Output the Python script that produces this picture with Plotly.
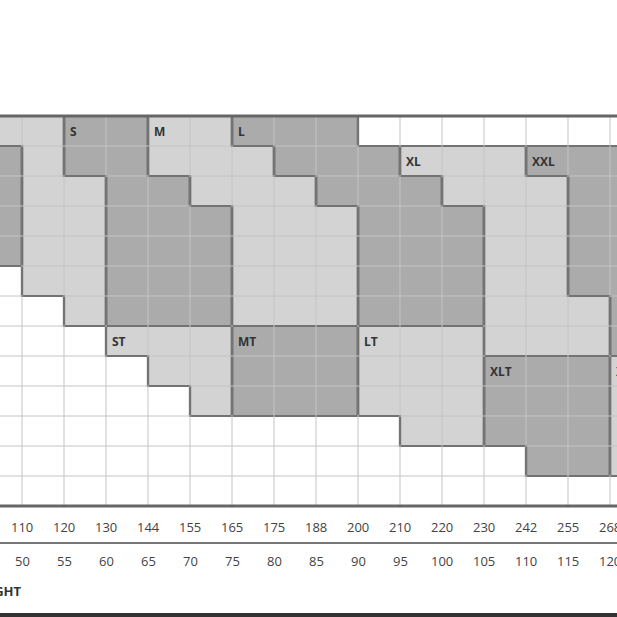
import plotly.graph_objects as go

# Data
chest_ticks = [110, 120, 130, 144, 155, 165, 175, 188, 200, 210, 220, 230, 242, 255, 268]
weight_ticks = [50, 55, 60, 65, 70, 75, 80, 85, 90, 95, 100, 105, 110, 115, 120]
row_label = "WEIGHT"
# size regions: name, shade, label cell (col,row), column spans (col, top_row, bottom_row_exclusive)
sizes = ["XXS", "XS", "S", "M", "L", "XL", "XXL", "ST", "MT", "LT", "XLT", "XXLT"]
shades = ["dark", "light", "dark", "light", "dark", "light", "dark", "light", "dark", "light", "dark", "light"]
label_cells = [None, (-1, 0), (1, 0), (3, 0), (5, 0), (9, 1), (12, 1), (2, 7), (5, 7), (8, 7), (11, 8), (14, 8)]
spans = [
    [(-1, 1, 5)],
    [(-1, 0, 1), (0, 0, 6), (1, 2, 7)],
    [(1, 0, 2), (2, 0, 7), (3, 2, 7), (4, 3, 7)],
    [(3, 0, 2), (4, 0, 3), (5, 1, 7), (6, 2, 7), (7, 3, 7)],
    [(5, 0, 1), (6, 0, 2), (7, 0, 3), (8, 1, 7), (9, 2, 7), (10, 3, 7)],
    [(9, 1, 2), (10, 1, 3), (11, 1, 8), (12, 2, 8), (13, 6, 8)],
    [(12, 1, 2), (13, 1, 6), (14, 1, 8)],
    [(2, 7, 8), (3, 7, 9), (4, 7, 10)],
    [(5, 7, 10), (6, 7, 10), (7, 7, 10)],
    [(8, 7, 10), (9, 7, 11), (10, 7, 11)],
    [(11, 8, 11), (12, 8, 12), (13, 8, 12)],
    [(14, 8, 12)],
]
NROWS = 13
COLS = list(range(-1, 16))

fill = {"light": "#d3d3d3", "dark": "#ababab"}

fig = go.Figure()
shapes = []
for name, shade, sp in zip(sizes, shades, spans):
    for c, t, b in sp:
        shapes.append(dict(type="rect", x0=c, x1=c + 1, y0=t, y1=b, fillcolor=fill[shade],
                           line=dict(width=0), layer="below"))
for c in COLS:
    shapes.append(dict(type="line", x0=c, x1=c, y0=0, y1=NROWS, line=dict(color="#c4c4c4", width=1)))
for r in range(NROWS + 1):
    shapes.append(dict(type="line", x0=-1, x1=16, y0=r, y1=r, line=dict(color="#c4c4c4", width=1)))
for sp in spans:
    xs, ys = [], []
    for c, t, b in sp:
        xs += [c, c + 1]; ys += [t, t]
    for c, t, b in reversed(sp):
        xs += [c + 1, c]; ys += [b, b]
    xs.append(xs[0]); ys.append(ys[0])
    fig.add_trace(go.Scatter(x=xs, y=ys, mode="lines", line=dict(color="#222", width=2.2),
                             hoverinfo="skip", showlegend=False))
shapes.append(dict(type="line", x0=-1, x1=16, y0=0, y1=0, line=dict(color="#666", width=3)))
shapes.append(dict(type="line", x0=-1, x1=16, y0=NROWS, y1=NROWS, line=dict(color="#666", width=3)))
shapes.append(dict(type="line", x0=-1, x1=16, y0=14.23, y1=14.23, line=dict(color="#777", width=2)))
shapes.append(dict(type="line", x0=-1, x1=16, y0=16.65, y1=16.65, line=dict(color="#333", width=5)))

ann = []
for name, cell in zip(sizes, label_cells):
    if cell is None:
        continue
    ann.append(dict(x=cell[0] + 0.1, y=cell[1] + 0.5, text=f"<b>{name}</b>", showarrow=False,
                    xanchor="left", yanchor="middle", font=dict(size=12, color="#333", family="Open Sans")))
for i, (a, b) in enumerate(zip(chest_ticks, weight_ticks)):
    ann.append(dict(x=i, y=13.7, text=str(a), showarrow=False, font=dict(size=13, color="#444", family="Open Sans")))
    ann.append(dict(x=i, y=14.83, text=str(b), showarrow=False, font=dict(size=13, color="#444", family="Open Sans")))
ann.append(dict(x=0.05, y=15.83, text=f"<b>{row_label}</b>", showarrow=False, xanchor="right",
                font=dict(size=13, color="#333", family="Open Sans")))

fig.update_layout(
    width=617, height=617, margin=dict(l=0, r=0, t=0, b=0),
    plot_bgcolor="white", paper_bgcolor="white",
    xaxis=dict(range=[-22 / 42, 595 / 42], visible=False, fixedrange=True),
    yaxis=dict(range=[501 / 30, -116 / 30], visible=False, fixedrange=True),
    shapes=shapes, annotations=ann, showlegend=False,
)
fig.write_html("out.html", post_script="document.body.style.margin='0';document.body.style.overflow='hidden';",
               config={"displayModeBar": False})
